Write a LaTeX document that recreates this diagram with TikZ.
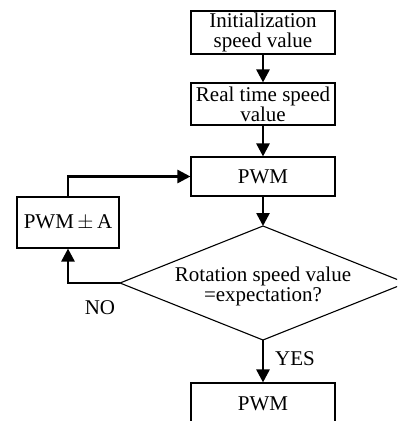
\documentclass[tikz,border=0pt]{standalone}
\usepackage{fontspec}
\setmainfont{Liberation Serif}
\usetikzlibrary{arrows.meta,shapes.geometric}
\begin{document}
\begin{tikzpicture}[x=1pt,y=-1pt,
  txt/.style={font=\fontsize{21}{20}\selectfont,align=center},
  stepbox/.style={draw,line width=1.1pt,inner sep=0pt,txt},
  flow/.style={line width=2.6pt,-{Triangle[length=13pt,width=13pt]}}]
\useasboundingbox (0,0) rectangle (397,421);
\clip (0,0) rectangle (397,421);
\node[stepbox,minimum width=144pt,minimum height=43pt] (init) at (263,32.5) {Initialization\\speed value};
\node[stepbox,minimum width=144pt,minimum height=42pt] (real) at (263,104) {Real time speed\\value};
\node[stepbox,minimum width=144pt,minimum height=39pt] (pwm) at (263,176.5) {PWM};
\node[stepbox,minimum width=102pt,minimum height=51pt] (pwma) at (68,222.5) {PWM\,$\pm$\,A};
\coordinate (dt) at (263,226);
\coordinate (db) at (263,340);
\coordinate (dl) at (120,283);
\coordinate (dr) at (406,283);
\draw[line width=1.1pt] (dt) -- (dr) -- (db) -- (dl) -- cycle;
\node[txt] (q) at (263,286) {Rotation speed value\\=expectation?};
\node[stepbox,minimum width=144pt,minimum height=60pt] (pwm2) at (263,413) {};
\node[txt] (pwm2t) at (263,404) {PWM};
\node[txt] (no) at (100,308) {NO};
\node[txt] (yes) at (295,359) {YES};
\draw[flow] (init) -- (real);
\draw[flow] (real) -- (pwm);
\draw[flow] (pwm) -- (dt);
\draw[flow] (db) -- (pwm2);
\draw[flow] (dl) -| (pwma);
\draw[flow] (pwma.north) |- (pwm.west);
\end{tikzpicture}
\end{document}
